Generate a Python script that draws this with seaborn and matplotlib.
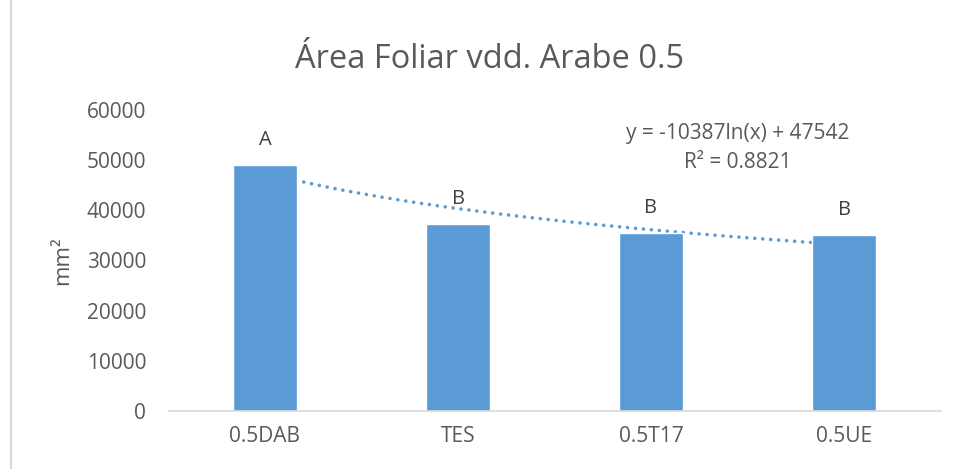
import numpy as np
import pandas as pd
import matplotlib
matplotlib.use("Agg")
import matplotlib.pyplot as plt
import seaborn as sns
from matplotlib.lines import Line2D

categories = ["0.5DAB", "TES", "0.5T17", "0.5UE"]
values = [49100, 37200, 35500, 35000]
letters = ["A", "B", "B", "B"]
trend_a = -10387
trend_b = 47542
y_ticks = [0, 10000, 20000, 30000, 40000, 50000, 60000]

sns.set_theme(style="white")
plt.rcParams["font.family"] = ["Open Sans", "DejaVu Sans"]

TXT = "#595959"
BAR = "#5B9BD5"

fig = plt.figure(figsize=(9.58, 4.69), dpi=100)
ax = fig.add_axes([168.5 / 958, 1 - 411 / 469, (940.5 - 168.5) / 958, 301 / 469])

df = pd.DataFrame({"cat": categories, "val": values})
sns.barplot(data=df, x="cat", y="val", color=BAR, width=0.33, ax=ax,
            saturation=1, zorder=3)

# logarithmic trendline (drawn behind bars)
xs = np.linspace(1, 4, 200)
ax.plot(xs - 1, trend_a * np.log(xs) + trend_b, linestyle=(0, (0.01, 2.2)),
        color=BAR, linewidth=2.6, dash_capstyle="round", zorder=2)

for i, (v, l) in enumerate(zip(values, letters)):
    ax.annotate(l, (i, v), xytext=(0, 18), textcoords="offset points",
                ha="center", va="center", fontsize=14.5, color="#404040")

fig.text(738 / 958, 1 - 133 / 469, "y = -10387ln(x) + 47542", ha="center",
         va="center", fontsize=15, color=TXT)
fig.text(738 / 958, 1 - 163 / 469, "R² = 0.8821", ha="center",
         va="center", fontsize=15, color=TXT)

ax.set_ylim(0, 60000)
ax.set_xlim(-0.5, 3.5)
ax.set_yticks(y_ticks)
ax.set_yticklabels([str(t) for t in y_ticks])
ax.tick_params(axis="y", length=0, pad=16, labelsize=15, labelcolor=TXT)
ax.tick_params(axis="x", length=0, pad=11, labelsize=15, labelcolor=TXT)
ax.set_xlabel("")
ax.set_ylabel("mm²", fontsize=16, color=TXT, labelpad=10)
for s in ["top", "right", "left"]:
    ax.spines[s].set_visible(False)
ax.spines["bottom"].set_color("#D9D9D9")
ax.spines["bottom"].set_linewidth(1.2)
ax.spines["bottom"].set_zorder(4)

fig.text(490 / 958, 1 - 60 / 469, "Área Foliar vdd. Arabe 0.5", ha="center",
         va="center", fontsize=23.5, color=TXT)

fig.add_artist(Line2D([11 / 958, 11 / 958], [0, 1], color="#D9D9D9",
                      linewidth=1.5, transform=fig.transFigure))

fig.savefig("out.png", dpi=100)
